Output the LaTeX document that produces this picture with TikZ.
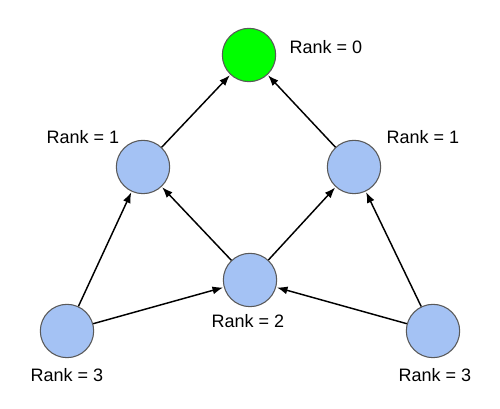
\documentclass[tikz,border=0pt]{standalone}
\usepackage{fontspec}
\setmainfont{Liberation Sans}
\usetikzlibrary{arrows.meta}
\begin{document}
\begin{tikzpicture}[x=0.75pt,y=-0.75pt]
\definecolor{color1}{HTML}{A4C2F4}
\definecolor{color2}{HTML}{00FF00}
\definecolor{color3}{HTML}{595959}
\tikzset{
  rank/.style={circle,draw=color3,fill=color1,line width=0.8pt,minimum size=40pt,inner sep=0pt},
  edge/.style={-{Latex[length=8pt,width=6pt]},black,line width=1.1pt,shorten >=0.5pt},
  lbl/.style={font=\fontsize{13.5}{16}\selectfont}
}
\useasboundingbox (0,0) rectangle (500,409);
\node[rank,fill=color2] (top) at (249,55) {};
\node[rank] (lmid) at (143,167) {};
\node[rank] (rmid) at (354,167) {};
\node[rank] (mid) at (250,280) {};
\node[rank] (bl) at (67,331) {};
\node[rank] (br) at (433,331) {};
\draw[edge] (bl) -- (lmid);
\draw[edge] (bl) -- (mid);
\draw[edge] (br) -- (rmid);
\draw[edge] (br) -- (mid);
\draw[edge] (mid) -- (lmid);
\draw[edge] (mid) -- (rmid);
\draw[edge] (lmid) -- (top);
\draw[edge] (rmid) -- (top);
\node[lbl,anchor=west] (l0) at (285,47) {Rank = 0};
\node[lbl] (l1a) at (83,137) {Rank = 1};
\node[lbl] (l1b) at (423,137) {Rank = 1};
\node[lbl] (l2) at (248,321) {Rank = 2};
\node[lbl] (l3a) at (67,375) {Rank = 3};
\node[lbl] (l3b) at (435,375) {Rank = 3};
\end{tikzpicture}
\end{document}
